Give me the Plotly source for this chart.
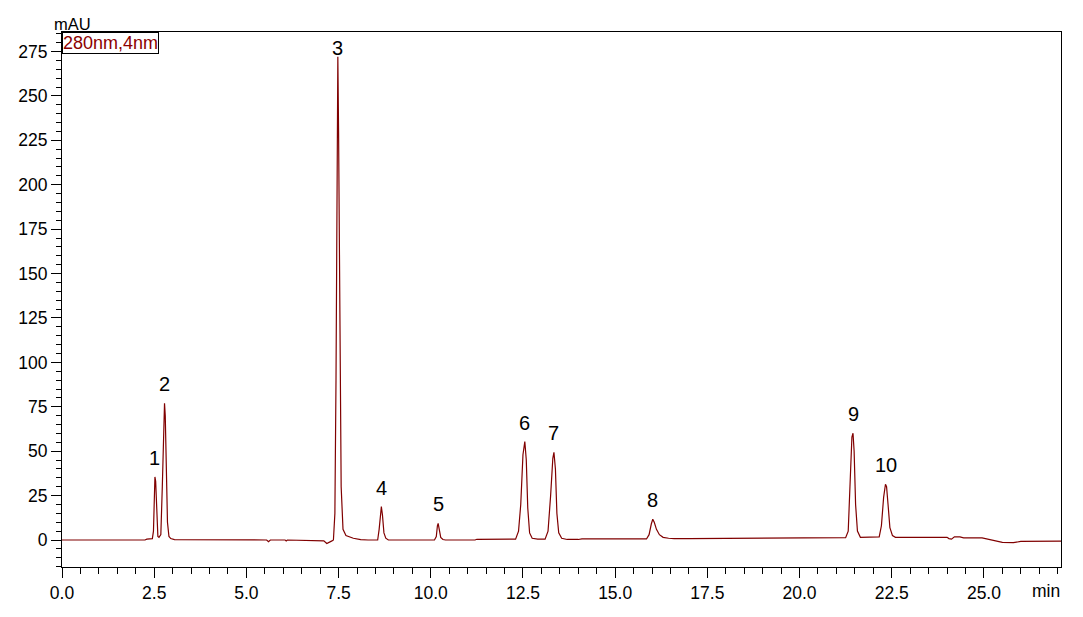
import plotly.graph_objects as go

# Chromatogram trace (retention time in min, absorbance in mAU)
time_min = [
    0.00, 2.25, 2.30, 2.45, 2.48, 2.50, 2.52, 2.54, 2.57, 2.60, 2.63,
    2.68, 2.72, 2.75, 2.78, 2.80, 2.83, 2.86, 2.90, 2.95, 3.05,
    5.55, 5.60, 5.65, 6.05, 6.08, 6.11, 7.10, 7.18, 7.25, 7.32,
    7.36, 7.40, 7.43, 7.46, 7.48, 7.50, 7.53, 7.57, 7.62, 7.70, 7.90, 8.10, 8.30,
    8.56, 8.60, 8.64, 8.66, 8.69, 8.73, 8.78, 8.85,
    10.10, 10.15, 10.18, 10.20, 10.23, 10.27, 10.33, 10.40,
    11.20, 11.25,
    12.30, 12.38, 12.44, 12.50, 12.55, 12.59, 12.63, 12.68, 12.75, 12.90,
    13.10, 13.18, 13.25, 13.31, 13.34, 13.38, 13.42, 13.47, 13.55, 13.70, 14.00,
    14.10, 15.85, 15.92, 15.98, 16.02, 16.06, 16.12, 16.20, 16.30, 16.45, 16.60,
    17.00, 20.50, 20.60,
    21.25, 21.32, 21.38, 21.42, 21.45, 21.48, 21.52, 21.57, 21.65, 22.10,
    22.16, 22.22, 22.28, 22.33, 22.36, 22.40, 22.45, 22.52, 22.60,
    24.00, 24.05, 24.12, 24.20, 24.35, 24.45, 24.95, 25.10, 25.30, 25.50, 25.80, 26.00, 27.10,
]
absorb_mau = [
    0.0, 0.0, 0.5, 0.8, 5.0, 25.0, 35.5, 33.0, 10.0, 2.0, 1.5,
    3.0, 30.0, 65.0, 77.0, 70.0, 40.0, 10.0, 2.0, 0.8, 0.2,
    0.0, -1.0, 0.0, 0.0, -0.5, 0.0, -0.5, -2.0, -1.0, -0.5,
    0.0, 15.0, 90.0, 240.0, 272.0, 230.0, 120.0, 30.0, 6.0, 2.5, 1.0, 0.2, 0.0,
    0.0, 6.0, 17.0, 18.8, 14.0, 4.0, 1.0, 0.0,
    0.0, 2.0, 8.0, 9.4, 6.0, 1.5, 0.3, 0.0,
    0.0, 0.4,
    0.5, 5.0, 20.0, 48.0, 55.4, 45.0, 18.0, 4.0, 1.0, 0.5,
    0.5, 5.0, 25.0, 46.0, 49.4, 40.0, 15.0, 4.0, 1.0, 0.3, 0.3,
    0.6, 0.6, 3.0, 9.0, 11.7, 10.0, 6.0, 3.0, 1.5, 1.0, 0.8,
    0.8, 0.9, 1.3,
    1.3, 5.0, 35.0, 58.0, 60.1, 50.0, 20.0, 5.0, 1.5, 1.5,
    1.8, 8.0, 24.0, 31.4, 30.0, 20.0, 7.0, 2.5, 1.5,
    1.5, 0.8, 0.5, 1.8, 1.8, 1.2, 1.2, 0.5, -0.5, -1.3, -1.5, -0.8, -0.6,
]

# Peak labels
peak_labels = ["1", "2", "3", "4", "5", "6", "7", "8", "9", "10"]
peak_times = [2.52, 2.78, 7.48, 8.66, 10.20, 12.55, 13.34, 16.02, 21.45, 22.35]
peak_heights = [35.5, 77.0, 272.0, 18.8, 9.4, 55.4, 49.4, 11.7, 60.1, 31.4]

x_ticks = [0.0, 2.5, 5.0, 7.5, 10.0, 12.5, 15.0, 17.5, 20.0, 22.5, 25.0]
y_ticks = [0, 25, 50, 75, 100, 125, 150, 175, 200, 225, 250, 275]

FONT = "Arial, Liberation Sans, sans-serif"
LINE_COLOR = "#800000"

fig = go.Figure()
fig.add_trace(go.Scatter(
    x=time_min, y=absorb_mau, mode="lines",
    line=dict(color=LINE_COLOR, width=1.2),
    hoverinfo="x+y", showlegend=False,
))

for lab, t, h in zip(peak_labels, peak_times, peak_heights):
    fig.add_annotation(
        x=t, y=h, text=lab, showarrow=False,
        xanchor="center", yanchor="bottom",
        yshift=-4 if h > 250 else 6,
        font=dict(family=FONT, size=20, color="black"),
    )

# Detector legend box
fig.add_annotation(
    xref="paper", yref="paper", x=0, y=1, xanchor="left", yanchor="top",
    text="280nm,4nm", showarrow=False,
    font=dict(family=FONT, size=18, color="#8B0000"),
    bordercolor="black", borderwidth=1, borderpad=0,
    bgcolor="white",
)
# Axis unit labels
fig.add_annotation(
    xref="paper", yref="paper", x=-0.01, y=1.0, xanchor="left", yanchor="bottom",
    text="mAU", showarrow=False, yshift=-3,
    font=dict(family=FONT, size=16.5, color="black"),
)
fig.add_annotation(
    xref="paper", yref="paper", x=1.0, y=0, xanchor="right", yanchor="top",
    text="min", showarrow=False, yshift=-12, xshift=1,
    font=dict(family=FONT, size=17.5, color="black"),
)

fig.update_layout(
    width=1075, height=609,
    margin=dict(l=54, r=22, t=24, b=50, autoexpand=False),
    paper_bgcolor="white", plot_bgcolor="white",
    font=dict(family=FONT, size=17.5, color="black"),
)
fig.update_xaxes(
    range=[0, 27.09], tickvals=x_ticks,
    ticktext=[f"{v:.1f}" for v in x_ticks],
    ticks="outside", ticklen=10, tickwidth=1, tickcolor="black",
    minor=dict(dtick=0.5, tick0=0, ticks="outside", ticklen=6, tickwidth=1, tickcolor="black"),
    showline=True, linecolor="black", linewidth=1, mirror=True,
    showgrid=False, zeroline=False, automargin=False,
    tickfont=dict(family=FONT, size=17.5, color="black"),
)
fig.update_yaxes(
    range=[-15.2, 286], tickvals=y_ticks,
    ticks="outside", ticklen=10, tickwidth=1, tickcolor="black",
    minor=dict(dtick=5, tick0=0, ticks="outside", ticklen=5, tickwidth=1, tickcolor="black"),
    showline=True, linecolor="black", linewidth=1, mirror=True,
    showgrid=False, zeroline=False, automargin=False,
    tickfont=dict(family=FONT, size=17.5, color="black"),
)

fig.write_html("out.html")
